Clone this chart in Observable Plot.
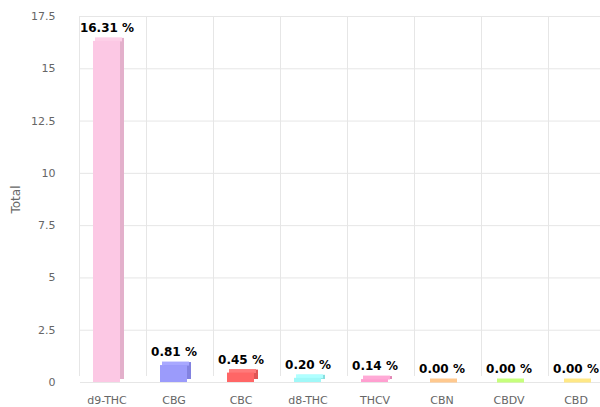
<!DOCTYPE html>
<html><head><meta charset="utf-8">
<script src="https://cdn.jsdelivr.net/npm/d3@7"></script>
<script src="https://cdn.jsdelivr.net/npm/@observablehq/plot@0.6"></script>
<style>body{margin:0;background:#fff} svg{display:block;font-family:"DejaVu Sans",sans-serif}</style>
</head><body><div id="chart"></div>
<script>
const categories = ["d9-THC","CBG","CBC","d8-THC","THCV","CBN","CBDV","CBD"];
const values = [16.31, 0.81, 0.45, 0.20, 0.14, 0.00, 0.00, 0.00];
const frontColors = ["#fcc8e4","#9b9bfb","#ff6666","#a0f8f8","#ff9fd0","#ffbf80","#bbf76a","#ffe075"];
const sideColors  = ["#e3b0cb","#8282e0","#e05555","#88dede","#e288b6","#e3a66a","#a2dc55","#e6c860"];
const topColors   = ["#fdd0e8","#a8a8ff","#ff7a7a","#b0ffff","#ffaad6","#ffc98f","#c6ff7c","#ffe886"];
const yTicks = [0, 2.5, 5, 7.5, 10, 12.5, 15, 17.5];
const yTickLabels = ["0","2.5","5","7.5","10","12.5","15","17.5"];

const data = categories.map((c, i) => ({category: c, value: values[i], front: frontColors[i], side: sideColors[i], top: topColors[i]}));
const xRange = [73, 609];
const step = (xRange[1] - xRange[0]) / categories.length;
const inset = 20;

const chart = Plot.plot({
  width: 600,
  height: 407,
  marginLeft: 72,
  marginRight: 0,
  marginTop: 16,
  marginBottom: 25,
  style: {fontFamily: "DejaVu Sans, sans-serif", background: "#fff"},
  x: {domain: categories, range: xRange, padding: 0},
  y: {domain: [0, 17.5], ticks: yTicks},
  marks: [
    Plot.ruleY(yTicks, {stroke: "#e6e6e6", insetLeft: 8}),
    Plot.ruleX(categories, {x: d => d, dx: -step / 2 + 6, stroke: "#e6e6e6", insetBottom: 6}),
    Plot.axisY({ticks: yTicks, tickFormat: d => yTickLabels[yTicks.indexOf(d)], tickSize: 0, tickPadding: 17, fontSize: 11, color: "#666", label: null}),
    Plot.axisX({tickSize: 0, tickPadding: 14, fontSize: 11, color: "#666", label: null}),
    Plot.text(["Total"], {frameAnchor: "left", rotate: -90, dx: -56, textAnchor: "middle", fontSize: 12, fill: "#666"}),
    Plot.barY(data, {x: "category", y: "value", fill: "side", dx: 4, dy: -3, insetLeft: inset, insetRight: inset}),
    Plot.tickY(data, {x: "category", y: "value", stroke: "top", strokeWidth: 4, dx: 2, dy: -2, insetLeft: inset, insetRight: inset}),
    Plot.barY(data, {x: "category", y: "value", fill: "front", insetLeft: inset, insetRight: inset}),
    Plot.text(data, {x: "category", y: "value", text: d => d.value.toFixed(2) + " %", dy: -13, fontWeight: "bold", fontSize: 12, fill: "#000", stroke: "#fff", strokeWidth: 2, paintOrder: "stroke"})
  ]
});
document.getElementById("chart").append(chart);
</script>
</body></html>
